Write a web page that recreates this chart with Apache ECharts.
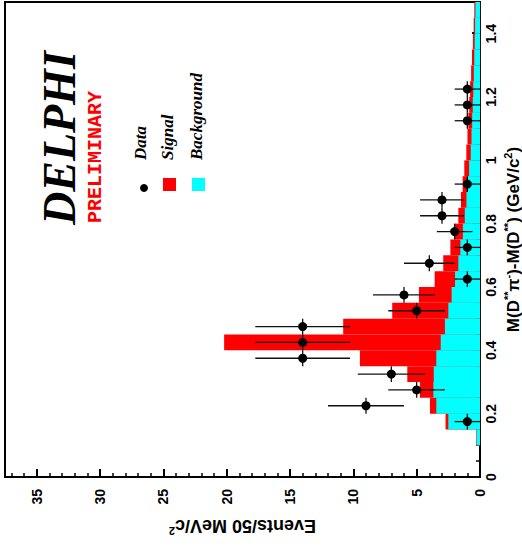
<!DOCTYPE html>
<html>
<head>
<meta charset="utf-8">
<script src="https://cdn.jsdelivr.net/npm/echarts@6/dist/echarts.min.js"></script>
<style>
  html, body { margin: 0; padding: 0; width: 522px; height: 554px; overflow: hidden; background: #fff; }
  /* the plot is laid out landscape and turned a quarter turn counter-clockwise */
  #chart { position: absolute; left: 0; top: 0; width: 554px; height: 522px;
           transform-origin: 0 0; transform: translateY(554px) rotate(-90deg); }
</style>
</head>
<body>
<div id="chart"></div>
<script>
// Lower edges of the 50 MeV/c^2 mass bins (GeV/c^2)
const binLow = [0.00, 0.05, 0.10, 0.15, 0.20, 0.25, 0.30, 0.35, 0.40, 0.45,
                0.50, 0.55, 0.60, 0.65, 0.70, 0.75, 0.80, 0.85, 0.90, 0.95,
                1.00, 1.05, 1.10, 1.15, 1.20, 1.25, 1.30, 1.35, 1.40, 1.45];
const binWidth = 0.05;

// Signal + background expectation per bin (events)
const totalCounts = [0, 0, 0.30, 2.72, 3.95, 4.74, 5.74, 9.48, 20.2, 10.8,
                     6.93, 4.82, 3.58, 2.90, 2.34, 2.03, 1.71, 1.50, 1.37, 1.24,
                     1.08, 0.99, 0.92, 0.85, 0.78, 0.70, 0.63, 0.56, 0.50, 0.45];

// Background expectation per bin (events)
const backgroundCounts = [0, 0, 0.27, 2.50, 3.45, 3.68, 3.65, 3.45, 3.10, 2.77,
                          2.50, 2.24, 1.97, 1.71, 1.55, 1.35, 1.20, 1.07, 0.96, 0.86,
                          0.73, 0.67, 0.62, 0.57, 0.53, 0.49, 0.45, 0.42, 0.39, 0.36];

// Observed candidates: bin centre, count, error
const dataMass   = [0.175, 0.225, 0.275, 0.325, 0.375, 0.425, 0.475, 0.525, 0.575, 0.625,
                    0.675, 0.725, 0.775, 0.825, 0.875, 0.925, 1.125, 1.175, 1.225];
const dataEvents = [1, 9, 5, 7, 14, 14, 14, 5, 6, 1,
                    4, 1, 2, 3, 3, 1, 1, 1, 1];
const dataError  = [1, 3, 2.24, 2.65, 3.74, 3.74, 3.74, 2.24, 2.45, 1,
                    2, 1, 1.41, 1.73, 1.73, 1, 1, 1, 1];

const massTicks = { min: 0, max: 1.5, major: 0.2, minor: 0.05 };
const eventTicks = { min: 0, max: 37.5, major: 5, minor: 1 };

const SANS = "'Liberation Sans', Arial, Helvetica, sans-serif";
const SERIF = "'Liberation Serif', 'Times New Roman', serif";
const MONO = "'Liberation Mono', 'Courier New', monospace";

function histData(values) {
  return binLow.map((lo, i) => [lo, lo + binWidth, values[i]]);
}

function histSeries(name, values, color, z) {
  return {
    name, type: 'custom', z, xAxisIndex: 0, yAxisIndex: 0,
    data: histData(values),
    renderItem(params, api) {
      const p0 = api.coord([api.value(0), 0]);
      const p1 = api.coord([api.value(1), api.value(2)]);
      return {
        type: 'rect',
        shape: { x: p0[0], y: p1[1], width: p1[0] - p0[0], height: p0[1] - p1[1] },
        style: { fill: color }
      };
    }
  };
}

const chart = echarts.init(document.getElementById('chart'), null, { renderer: 'svg', width: 554, height: 522 });

const supStyle = { fontFamily: SANS, fontWeight: 'bold', fontSize: 11, lineHeight: 11, verticalAlign: 'top' };

const option = {
  animation: false,
  backgroundColor: '#fff',
  grid: {
    left: 77, right: 2, top: 5, bottom: 42,
    show: true, borderColor: '#000', borderWidth: 2,
    containLabel: false, outerBoundsMode: 'none'
  },
  xAxis: [
    {
      type: 'value', position: 'bottom',
      min: massTicks.min, max: massTicks.max, interval: massTicks.major,
      axisLine: { show: true, onZero: false, lineStyle: { color: '#000', width: 2 } },
      axisTick: { show: true, inside: true, length: 8, lineStyle: { color: '#000', width: 2 } },
      axisLabel: { show: true, margin: 4, showMaxLabel: false, color: '#000',
                   fontFamily: SANS, fontWeight: 'bold', fontSize: 14 },
      splitLine: { show: false },
      name: 'M(D{s|**}\u03c0{s|-})-M(D{s|**}) (GeV/c{s|2})',
      nameLocation: 'middle', nameGap: 21,
      nameTextStyle: {
        color: '#000', fontFamily: SANS, fontWeight: 'bold', fontSize: 17, lineHeight: 21,
        rich: { s: supStyle }
      }
    },
    {
      type: 'value', position: 'bottom',
      min: massTicks.min, max: massTicks.max, interval: massTicks.minor,
      axisLine: { show: false },
      axisTick: { show: true, inside: true, length: 4, lineStyle: { color: '#000', width: 1.5 } },
      axisLabel: { show: false },
      splitLine: { show: false }
    }
  ],
  yAxis: [
    {
      type: 'value', position: 'left',
      min: eventTicks.min, max: eventTicks.max, interval: eventTicks.major,
      axisLine: { show: true, onZero: false, lineStyle: { color: '#000', width: 2 } },
      axisTick: { show: true, inside: true, length: 8, lineStyle: { color: '#000', width: 2 } },
      axisLabel: { show: true, margin: 12, showMaxLabel: false, color: '#000',
                   fontFamily: SANS, fontWeight: 'bold', fontSize: 14 },
      splitLine: { show: false },
      name: 'Events/50 MeV/c{s|2}',
      nameLocation: 'middle', nameRotate: 90, nameGap: 37,
      nameTextStyle: {
        color: '#000', fontFamily: SANS, fontWeight: 'bold', fontSize: 18, lineHeight: 21,
        rich: { s: supStyle }
      }
    },
    {
      type: 'value', position: 'left',
      min: eventTicks.min, max: eventTicks.max, interval: eventTicks.minor,
      axisLine: { show: false },
      axisTick: { show: true, inside: true, length: 4, lineStyle: { color: '#000', width: 1.5 } },
      axisLabel: { show: false },
      splitLine: { show: false }
    }
  ],
  series: [
    histSeries('Signal', totalCounts, '#ff0000', 2),
    histSeries('Background', backgroundCounts, '#00ffff', 3),
    {
      name: 'Data', type: 'custom', z: 5, xAxisIndex: 0, yAxisIndex: 0,
      data: dataMass.map((m, i) => [m, dataEvents[i], dataError[i]]),
      renderItem(params, api) {
        const m = api.value(0), n = api.value(1), e = api.value(2);
        const c = api.coord([m, n]);
        const lo = api.coord([m, Math.max(0, n - e)]);
        const hi = api.coord([m, n + e]);
        const l = api.coord([m - binWidth / 2, n]);
        const r = api.coord([m + binWidth / 2, n]);
        const line = { stroke: '#111', lineWidth: 1.3 };
        return {
          type: 'group',
          children: [
            { type: 'line', shape: { x1: c[0], y1: lo[1], x2: c[0], y2: hi[1] }, style: line },
            { type: 'line', shape: { x1: l[0], y1: c[1], x2: r[0], y2: c[1] }, style: line },
            { type: 'circle', shape: { cx: c[0], cy: c[1], r: 4.5 }, style: { fill: '#000' } }
          ]
        };
      }
    }
  ],
  graphic: [
    { type: 'text', left: 329, top: 36, z: 10,
      style: { text: 'DELPHI', fill: '#000', font: 'italic bold 46px ' + SERIF } },
    { type: 'text', left: 331, top: 85, z: 10,
      style: { text: 'PRELIMINARY', fill: '#ff0000', font: 'bold 20px ' + MONO } },
    { type: 'circle', shape: { cx: 366, cy: 144, r: 4 }, style: { fill: '#000' }, z: 10 },
    { type: 'rect', shape: { x: 363, y: 163, width: 13, height: 13 }, style: { fill: '#ff0000' }, z: 10 },
    { type: 'rect', shape: { x: 363, y: 192, width: 13, height: 13 }, style: { fill: '#00ffff' }, z: 10 },
    { type: 'text', left: 394, top: 132, z: 10,
      style: { text: 'Data', fill: '#000', font: 'italic bold 17px ' + SERIF } },
    { type: 'text', left: 394, top: 159, z: 10,
      style: { text: 'Signal', fill: '#000', font: 'italic bold 17px ' + SERIF } },
    { type: 'text', left: 394, top: 188, z: 10,
      style: { text: 'Background', fill: '#000', font: 'italic bold 17px ' + SERIF } }
  ]
};

chart.setOption(option);
</script>
</body>
</html>
